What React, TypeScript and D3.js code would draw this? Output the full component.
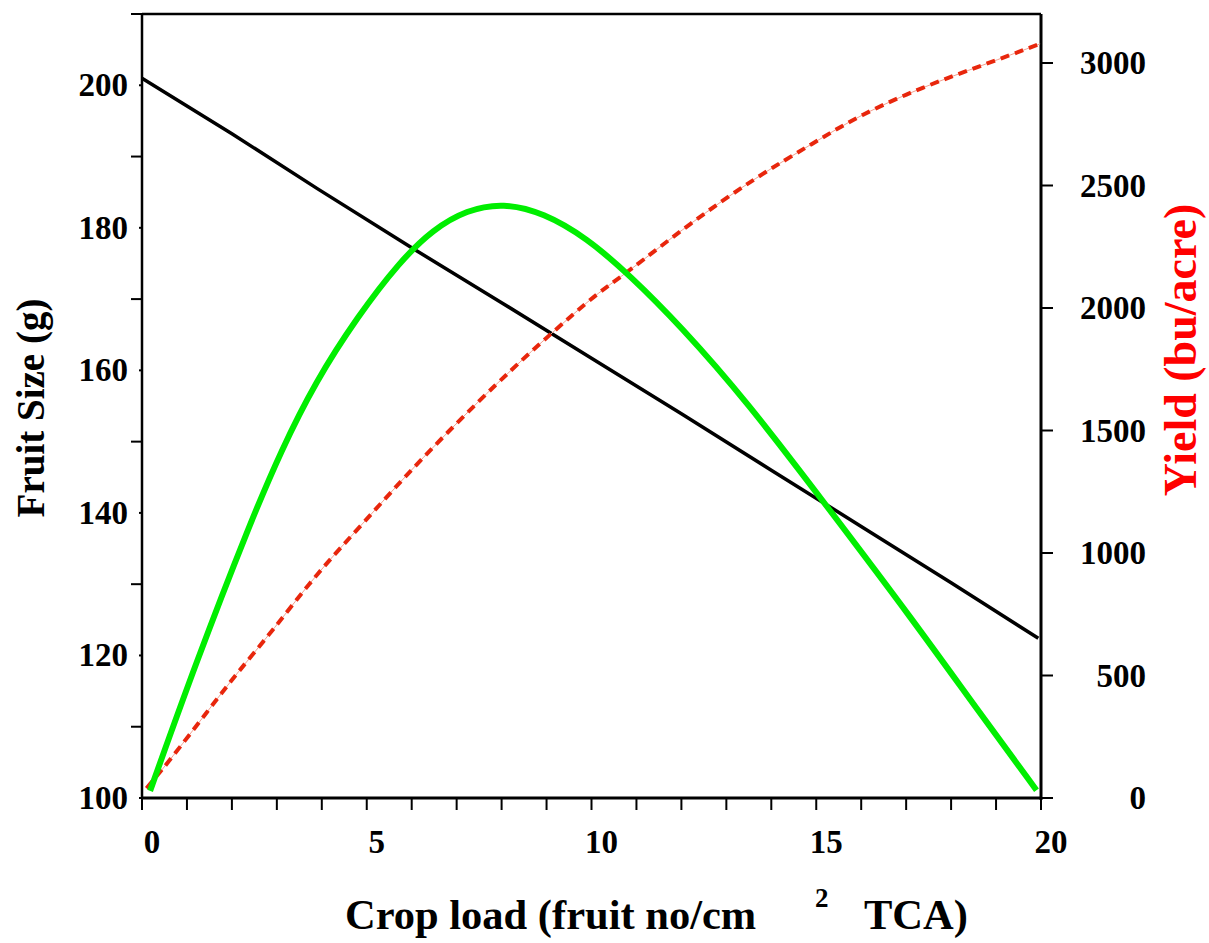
import React from 'react';
import * as d3 from 'd3';

// crop load (fruit no / cm2 TCA) vs values
const fruitSize: [number, number][] = [
  [0, 201], [2, 193.2], [3.9, 185.5], [6, 177.2], [8, 169.5], [10, 161.7],
  [12, 153.9], [14, 146], [16, 138.1], [18, 130.2], [19.94, 122.4],
];
const yieldBu: [number, number][] = [
  [0.1, 40], [0.51, 128], [1.51, 366], [2.11, 509], [2.92, 686], [3.89, 917],
  [4.92, 1121], [6.18, 1380], [7.96, 1706], [9.11, 1897], [10.12, 2060],
  [10.78, 2142], [12.19, 2346], [13.68, 2536], [14.93, 2672], [15.97, 2788],
  [17.38, 2903], [18.72, 2992], [19.98, 3078],
];
const greenCurve: [number, number][] = [
  [0.18, 101], [1.2, 119], [2.4, 138.5], [3.1, 148.8], [3.85, 158.3],
  [4.8, 167.6], [5.74, 175.3], [6.48, 179.8], [7.22, 182.5], [8.04, 183.5],
  [8.93, 182.1], [9.89, 178.6], [10.86, 173.3], [11.97, 166.3], [13.45, 155.7],
  [15.23, 141.0], [17.16, 124.9], [18.64, 111.9], [19.9, 101.1],
];
const xLabels = [0, 5, 10, 15, 20];
const leftLabels = [100, 120, 140, 160, 180, 200];
const leftMinor = [110, 130, 150, 170, 190, 210];
const rightLabels = [0, 500, 1000, 1500, 2000, 2500, 3000];

const App = () => {
  const left = 142, right = 1041, top = 14, bottom = 798;

  const x = d3.scaleLinear().domain([0, 20]).range([left, right]);
  const yL = d3.scaleLinear().domain([100, 210]).range([bottom, top]);
  const yR = d3.scaleLinear().domain([0, 3200]).range([bottom, top]);

  const straightL = d3.line<[number, number]>()
    .x(d => x(d[0]))
    .y(d => yL(d[1]));
  const smoothL = d3.line<[number, number]>()
    .x(d => x(d[0]))
    .y(d => yL(d[1]))
    .curve(d3.curveBasis);
  const smoothR = d3.line<[number, number]>()
    .x(d => x(d[0]))
    .y(d => yR(d[1]))
    .curve(d3.curveBasis);

  const font = '"Liberation Serif", "Times New Roman", serif';

  return (
    <svg width={1209} height={943}
      style={{position: 'absolute', left: 0, top: 0, background: '#fff'}}
      fontFamily={font} fontWeight="bold">
      {/* frame */}
      <line x1={left} x2={right} y1={top} y2={top} stroke="#000" strokeWidth={2.5} />
      <line x1={left} x2={left} y1={top} y2={bottom} stroke="#000" strokeWidth={2.5} />
      <line x1={right} x2={right} y1={top} y2={bottom + 2} stroke="#000" strokeWidth={3} />
      <line x1={left} x2={right} y1={bottom} y2={bottom} stroke="#000" strokeWidth={3} />

      {/* x ticks */}
      {d3.range(0, 21).map(v => (
        <line key={'xt' + v} x1={x(v)} x2={x(v)} y1={bottom} y2={bottom + 12}
          stroke="#000" strokeWidth={2} />
      ))}
      {xLabels.map(v => (
        <text key={'xl' + v} x={x(v) + 10} y={853} textAnchor="middle" fontSize={33}>{v}</text>
      ))}

      {/* left ticks */}
      {leftMinor.map(v => (
        <line key={'lm' + v} x1={left - 11} x2={left} y1={yL(v)} y2={yL(v)}
          stroke="#000" strokeWidth={2} />
      ))}
      {leftLabels.map(v => (
        <g key={'ll' + v}>
          <line x1={left - 3} x2={left} y1={yL(v)} y2={yL(v)} stroke="#000" strokeWidth={2} />
          <text x={128} y={yL(v) + 11} textAnchor="end" fontSize={33}>{v}</text>
        </g>
      ))}

      {/* right ticks */}
      {rightLabels.map(v => (
        <g key={'rl' + v}>
          <line x1={right} x2={right + 12} y1={yR(v)} y2={yR(v)} stroke="#000" strokeWidth={2} />
          <text x={1146} y={yR(v) + 11} textAnchor="end" fontSize={33}>{v}</text>
        </g>
      ))}

      {/* series */}
      <path d={straightL(fruitSize) || ''} fill="none" stroke="#000" strokeWidth={3.5} />
      <path d={smoothR(yieldBu) || ''} fill="none" stroke="#f4a090" strokeWidth={1} />
      <path d={smoothR(yieldBu) || ''} fill="none" stroke="#e8260c" strokeWidth={4}
        strokeDasharray="9 6" />
      <path d={smoothL(greenCurve) || ''} fill="none" stroke="#00ee00" strokeWidth={6} />

      {/* axis titles */}
      <text x={345} y={929} fontSize={42.5}>Crop load (fruit no/cm</text>
      <text x={815} y={907} fontSize={27}>2</text>
      <text x={864} y={929} fontSize={42.5}>TCA)</text>
      <text transform="translate(44,408) rotate(-90)" textAnchor="middle" fontSize={39}>Fruit Size (g)</text>
      <text transform="translate(1196,350) rotate(-90)" textAnchor="middle" fontSize={46}
        fill="#ff0000">Yield (bu/acre)</text>
    </svg>
  );
};

export default App;
